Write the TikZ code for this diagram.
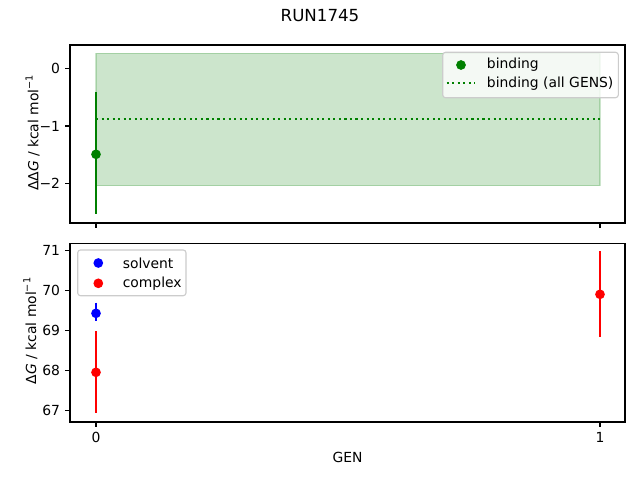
\documentclass[tikz,border=0pt]{standalone}
\usepackage{fontspec}
\setmainfont{DejaVu Sans}
\newfontfamily\dvobl{DejaVu Sans Oblique}
\usetikzlibrary{calc}
\definecolor{mplgreen}{RGB}{0,128,0}
\definecolor{mplblue}{RGB}{0,0,255}
\definecolor{mplred}{RGB}{255,0,0}
\definecolor{legedge}{RGB}{204,204,204}
\tikzset{
  frame/.style={draw=black, line width=0.8pt},
  tickmark/.style={draw=black, line width=0.8pt},
  ylab/.style={anchor=east, inner sep=0pt, font=\fontsize{10}{12}\selectfont},
  xlab/.style={anchor=north, inner sep=0pt, font=\fontsize{10}{12}\selectfont},
  txt/.style={inner sep=0pt, font=\fontsize{10}{12}\selectfont},
  ebar/.style={line width=1.5pt},
  dotpt/.style={circle, inner sep=0pt, minimum size=7pt},
  legbox/.style={draw=legedge, line width=0.8pt, fill=white, fill opacity=0.8, rounded corners=2pt},
}
\newcommand{\kcalunit}{ / kcal mol\raisebox{0.75ex}{\fontsize{7}{8}\selectfont −1}}
\begin{document}
\begin{tikzpicture}[x=0.72pt, y=-0.72pt]
\useasboundingbox[fill=white] (0,0) rectangle (640,480);

% title
\node[txt, font=\fontsize{12}{14}\selectfont] (title) at (320,16) {RUN1745};

% ===== top axes =====
\coordinate (tA) at (70,45);
\coordinate (tB) at (625,223);
\fill[mplgreen, opacity=0.2] (96,53.3) rectangle (600,185.7);
\draw[mplgreen, opacity=0.2, line width=0.8pt] (96,53.3) rectangle (600,185.7);
\draw[mplgreen, line width=1.5pt, dash pattern=on 1.5pt off 2.475pt] (96,119) -- (600,119);
\coordinate (gtop) at (96,92.3);
\coordinate (gbot) at (96,214.3);
\draw[ebar, mplgreen] (gtop) -- (gbot);
\node[dotpt, fill=mplgreen] (gpt) at (96,154.3) {};

% top ticks
\foreach \v/\y in {0/68.5, −1/126, −2/183.5} {
  \draw[tickmark] (65.1,\y) -- (70,\y);
  \node[ylab] at (60.3,\y) {\v};
}
\draw[tickmark] (96,223) -- (96,227.9);
\draw[tickmark] (600,223) -- (600,227.9);
\node[txt, rotate=90, anchor=base] (tylab) at (38.3,133) {ΔΔ{\dvobl G}\kcalunit};

% top legend
\draw[legbox] (442.7,52.3) rectangle (618.3,97.7);
\node[dotpt, fill=mplgreen] (lg1) at (461,65) {};
\node[txt, anchor=west] (lt1) at (486.7,65) {binding};
\coordinate (ld1) at (446.7,83.3);
\coordinate (ld2) at (474.5,83.3);
\draw[mplgreen, line width=1.5pt, dash pattern=on 1.5pt off 2.475pt] (ld1) -- (ld2);
\node[txt, anchor=west] (lt2) at (486.7,83.3) {binding (all GENS)};
\draw[frame] (tA) rectangle (tB);

% ===== bottom axes =====
\coordinate (bA) at (70,243.3);
\coordinate (bB) at (625,422);
\coordinate (bt1) at (96,302.7);
\coordinate (bb1) at (96,321.3);
\draw[ebar, mplblue] (bt1) -- (bb1);
\node[dotpt, fill=mplblue] (bpt) at (96,313.3) {};
\coordinate (rt1) at (96,331);
\coordinate (rb1) at (96,413.3);
\draw[ebar, mplred] (rt1) -- (rb1);
\node[dotpt, fill=mplred] (rpt1) at (96,372.3) {};
\coordinate (rt2) at (600,251);
\coordinate (rb2) at (600,336.7);
\draw[ebar, mplred] (rt2) -- (rb2);
\node[dotpt, fill=mplred] (rpt2) at (600,294.3) {};

\foreach \v/\y in {71/250.7, 70/290.6, 69/330.5, 68/370.4, 67/410.3} {
  \draw[tickmark] (65.1,\y) -- (70,\y);
  \node[ylab] at (60.3,\y) {\v};
}
\draw[tickmark] (96,422) -- (96,426.9);
\draw[tickmark] (600,422) -- (600,426.9);
\node[xlab] (x0) at (96,432) {0};
\node[xlab] (x1) at (600,432) {1};
\node[txt] (xlabel) at (347.5,457) {GEN};
\node[txt, rotate=90, anchor=base] (bylab) at (36,331) {Δ{\dvobl G}\kcalunit};

% bottom legend
\draw[legbox] (77.7,250) rectangle (186,295.7);
\node[dotpt, fill=mplblue] (lb1) at (98.3,263) {};
\node[txt, anchor=west] (lbt1) at (122.5,263) {solvent};
\node[dotpt, fill=mplred] (lb2) at (98.3,283.3) {};
\node[txt, anchor=west] (lbt2) at (122.5,283.3) {complex};
\draw[frame] (bA) rectangle (bB);
\end{tikzpicture}
\end{document}
